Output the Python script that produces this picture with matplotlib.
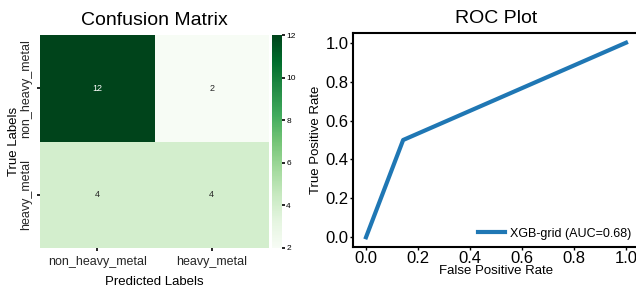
import matplotlib

matplotlib.use("Agg")
import matplotlib.pyplot as plt
import numpy as np
import seaborn as sns

class_names = ["non_heavy_metal", "heavy_metal"]
conf_matrix = np.array([[12, 2], [4, 4]])
fpr = [0.0, 2 / 14, 1.0]
tpr = [0.0, 0.5, 1.0]
model_name = "XGB-grid"
auc_value = 0.68

plt.rcParams["font.family"] = ["Liberation Sans", "DejaVu Sans"]

fig = plt.figure(figsize=(6.36, 2.91), dpi=100)
W, H = 636, 291


def px_axes(left, top, right, bottom):
    return fig.add_axes([left / W, 1 - bottom / H, (right - left) / W, (bottom - top) / H])


# confusion matrix
ax_cm = px_axes(40, 35, 269, 248)
ax_cb = px_axes(272, 35, 282, 248)
sns.heatmap(
    conf_matrix,
    annot=True,
    fmt="d",
    cmap="Greens",
    vmin=2,
    vmax=12,
    ax=ax_cm,
    cbar_ax=ax_cb,
    annot_kws={"fontsize": 6.5},
    xticklabels=class_names,
    yticklabels=class_names,
)
ax_cm.set_title("Confusion Matrix", fontsize=14, pad=7)
ax_cm.set_xlabel("Predicted Labels", fontsize=9.5, labelpad=6)
ax_cm.set_ylabel("True Labels", fontsize=9.5, labelpad=0)
ax_cm.tick_params(axis="both", length=2, width=1.2, labelsize=9, labelcolor="#262626")
ax_cm.set_yticklabels(class_names, rotation=90, va="center")
ax_cb.tick_params(length=2, width=1.2, labelsize=6, pad=1)
ax_cb.set_yticks([2, 4, 6, 8, 10, 12])

# ROC curve
ax_roc = px_axes(353, 33, 639, 247)
ax_roc.plot(fpr, tpr, color="#1f77b4", lw=3, label=f"{model_name} (AUC={auc_value:.2f})")
ax_roc.set_xlim(-0.05, 1.05)
ax_roc.set_ylim(-0.05, 1.05)
ax_roc.set_xticks(np.arange(0, 1.01, 0.2))
ax_roc.set_yticks(np.arange(0, 1.01, 0.2))
ax_roc.tick_params(axis="both", length=2, width=1, labelsize=12, pad=1)
for spine in ax_roc.spines.values():
    spine.set_linewidth(1.5)
ax_roc.set_title("ROC Plot", fontsize=14, pad=7)
ax_roc.set_xlabel("False Positive Rate", fontsize=9.5, labelpad=-1)
ax_roc.set_ylabel("True Positive Rate", fontsize=9.5, labelpad=3)
ax_roc.legend(loc="lower right", frameon=False, fontsize=9, handlelength=2.2,
              borderaxespad=0.2, handletextpad=0.4)

fig.savefig("out.png", dpi=100)
